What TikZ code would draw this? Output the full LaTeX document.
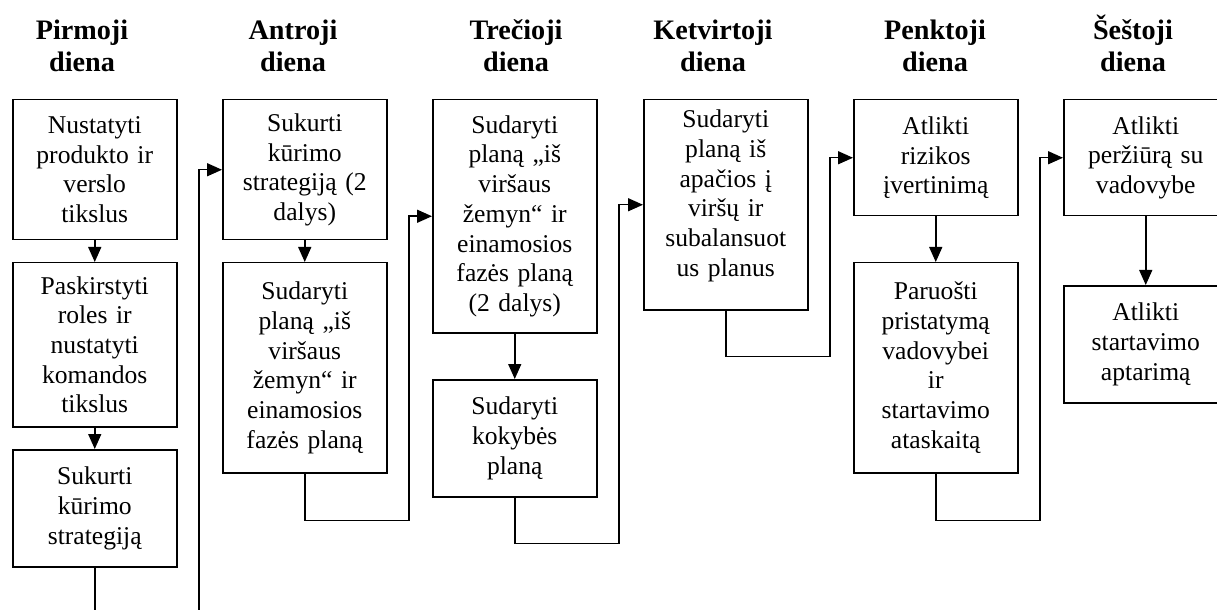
\documentclass[tikz,border=0pt]{standalone}
\usepackage{fontspec}
\setmainfont{Liberation Serif}
\usetikzlibrary{arrows.meta,calc}
\begin{document}
\begin{tikzpicture}[x=0.5pt,y=-0.5pt,
  box/.style={draw, line width=0.75pt, inner sep=0pt, anchor=north west,
    text width=82pt, align=center, minimum height=#1,
    font=\fontsize{12.8}{14.85}\selectfont},
  head/.style={anchor=base, text width=80pt, align=center, inner sep=0pt,
    font=\bfseries\fontsize{14.1}{16}\selectfont},
  arr/.style={line width=0.75pt, -{Triangle[length=7.5pt,width=6.5pt]}},
]
\useasboundingbox (0,0) rectangle (1217,610);
\fill[white] (0,0) rectangle (1217,610);
\clip (0,0) rectangle (1217,610);

% headings
\node[head] (h1) at (82,40) {Pirmoji\\diena};
\node[head] (h2) at (293,40) {Antroji\\diena};
\node[head] (h3) at (516,40) {Trečioji\\diena};
\node[head] (h4) at (713,40) {Ketvirtoji\\diena};
\node[head] (h5) at (935,40) {Penktoji\\diena};
\node[head] (h6) at (1133,40) {Šeštoji\\diena};

% day 1
\node[box=70pt] (P1) at (12,99) {Nustatyti\\produkto ir\\verslo\\tikslus};
\node[box=82pt] (P2) at (12,262) {Paskirstyti\\roles ir\\nustatyti\\komandos\\tikslus};
\node[box=58.5pt] (P3) at (12,449) {Sukurti\\kūrimo\\strategiją};
% day 2
\node[box=70pt] (A1) at (222,99) {Sukurti\\kūrimo\\strategiją (2\\dalys)};
\node[box=105pt] (A2) at (222,262) {Sudaryti\\planą „iš\\viršaus\\žemyn“ ir\\einamosios\\fazės planą};
% day 3
\node[box=116.5pt] (T1) at (432,99) {Sudaryti\\planą „iš\\viršaus\\žemyn“ ir\\einamosios\\fazės planą\\(2 dalys)};
\node[box=58.5pt] (T2) at (432,379) {Sudaryti\\kokybės\\planą};
% day 4
\node[box=105pt, text height=14pt, text depth=91pt] (K1) at (643,99) {Sudaryti\\planą iš\\apačios į\\viršų ir\\subalansuot\\us planus};
% day 5
\node[box=58pt] (N1) at (853,99) {Atlikti\\rizikos\\įvertinimą};
\node[box=105pt] (N2) at (853,262) {Paruošti\\pristatymą\\vadovybei\\ir\\startavimo\\ataskaitą};
% day 6
\node[box=58pt] (S1) at (1063,99) {Atlikti\\peržiūrą su\\vadovybe};
\node[box=58.5pt] (S2) at (1063,285) {Atlikti\\startavimo\\aptarimą};

% connectors
\draw[arr] (P1.south) -- (P2.north);
\draw[arr] (P2.south) -- (P3.north);
\draw[arr] (P3.south) -- ++(0,80) -| ($(A1.west)+(-23,0)$) -- (A1.west);
\draw[arr] (A1.south) -- (A2.north);
\draw[arr] (A2.south) -- ++(0,47) -| ($(T1.west)+(-23,0)$) -- (T1.west);
\draw[arr] (T1.south) -- (T2.north);
\draw[arr] (T2.south) -- ++(0,46) -| ($(K1.west)+(-24,0)$) -- (K1.west);
\draw[arr] (K1.south) -- ++(0,46) -| ($(N1.west)+(-23,0)$) -- (N1.west);
\draw[arr] (N1.south) -- (N2.north);
\draw[arr] (N2.south) -- ++(0,47) -| ($(S1.west)+(-23,0)$) -- (S1.west);
\draw[arr] (S1.south) -- (S2.north);
\end{tikzpicture}
\end{document}
